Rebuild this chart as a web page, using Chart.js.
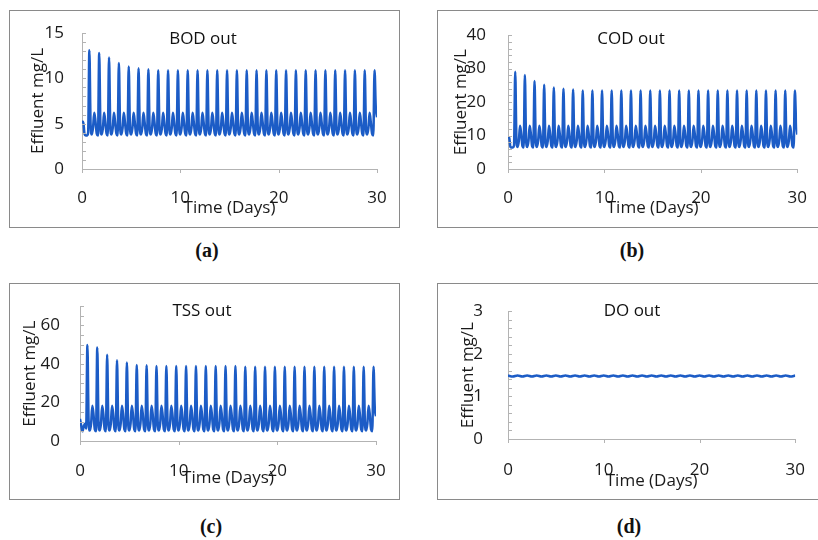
<!DOCTYPE html>
<html>
<head>
<meta charset="utf-8">
<script src="https://cdn.jsdelivr.net/npm/chart.js@4.4.1/dist/chart.umd.min.js"></script>
<style>
  body { margin: 0; background: #fff; }
  #page { position: relative; width: 818px; height: 540px; overflow: hidden; font-family: "Open Sans", sans-serif; }
  .box { position: absolute; border: 1px solid #8a8a8a; box-sizing: border-box; }
  canvas { position: absolute; }
  .ttl { position: absolute; transform: translate(-50%, -50%); font-size: 17px; color: #111; white-space: nowrap; }
  .cap { position: absolute; transform: translate(-50%, -50%); font: bold 20px "Liberation Serif", serif; color: #111; }
</style>
</head>
<body>
<div id="page">
  <div class="box" style="left:9px;top:10px;width:391px;height:218px"></div>
  <div class="box" style="left:437px;top:10px;width:400px;height:218px"></div>
  <div class="box" style="left:9px;top:283px;width:391px;height:217px"></div>
  <div class="box" style="left:437px;top:283px;width:400px;height:217px"></div>

  <canvas id="cA" width="389" height="216" style="left:10px;top:11px"></canvas>
  <canvas id="cB" width="380" height="216" style="left:438px;top:11px"></canvas>
  <canvas id="cC" width="389" height="215" style="left:10px;top:284px"></canvas>
  <canvas id="cD" width="380" height="215" style="left:438px;top:284px"></canvas>

  <div class="ttl" style="left:203px;top:37px">BOD out</div>
  <div class="ttl" style="left:631px;top:37px">COD out</div>
  <div class="ttl" style="left:202px;top:309px">TSS out</div>
  <div class="ttl" style="left:632px;top:309px">DO out</div>

  <div class="cap" style="left:207px;top:250px">(a)</div>
  <div class="cap" style="left:632px;top:250px">(b)</div>
  <div class="cap" style="left:211px;top:526px">(c)</div>
  <div class="cap" style="left:629px;top:526px">(d)</div>
</div>

<script>
// sampling step of the simulated series (days)
const STEP = 0.125
const DO_STEP = 0.5

const X_TICKS = [0, 10, 20, 30]
const BOD_Y_TICKS = [0, 5, 10, 15]
const COD_Y_TICKS = [0, 10, 20, 30, 40]
const TSS_Y_TICKS = [0, 20, 40, 60]
const DO_Y_TICKS = [0, 1, 2, 3]

// one row per day, 8 samples per day
const BOD_OUT = [
  5.2, 5.2, 3.9, 3.7, 3.7, 4.0, 13.1, 4.9,
  3.8, 4.6, 6.2, 5.2, 3.9, 3.7, 12.8, 4.8,
  3.8, 4.5, 6.2, 5.1, 3.9, 3.7, 12.3, 4.8,
  3.8, 4.5, 6.2, 5.1, 3.9, 3.7, 11.7, 4.7,
  3.8, 4.5, 6.2, 5.1, 3.9, 3.7, 11.3, 4.7,
  3.8, 4.5, 6.2, 5.1, 3.9, 3.7, 11.1, 4.7,
  3.8, 4.5, 6.2, 5.1, 3.9, 3.7, 11.0, 4.7,
  3.8, 4.5, 6.2, 5.1, 3.9, 3.7, 10.9, 4.7,
  3.8, 4.5, 6.2, 5.1, 3.9, 3.7, 10.9, 4.7,
  3.8, 4.5, 6.2, 5.1, 3.9, 3.7, 10.9, 4.7,
  3.8, 4.5, 6.2, 5.1, 3.9, 3.7, 10.9, 4.7,
  3.8, 4.5, 6.2, 5.1, 3.9, 3.7, 10.9, 4.7,
  3.8, 4.5, 6.2, 5.1, 3.9, 3.7, 10.9, 4.7,
  3.8, 4.5, 6.2, 5.1, 3.9, 3.7, 10.9, 4.7,
  3.8, 4.5, 6.2, 5.1, 3.9, 3.7, 10.9, 4.7,
  3.8, 4.5, 6.2, 5.1, 3.9, 3.7, 10.9, 4.7,
  3.8, 4.5, 6.2, 5.1, 3.9, 3.7, 10.9, 4.7,
  3.8, 4.5, 6.2, 5.1, 3.9, 3.7, 10.9, 4.7,
  3.8, 4.5, 6.2, 5.1, 3.9, 3.7, 10.9, 4.7,
  3.8, 4.5, 6.2, 5.1, 3.9, 3.7, 10.9, 4.7,
  3.8, 4.5, 6.2, 5.1, 3.9, 3.7, 10.9, 4.7,
  3.8, 4.5, 6.2, 5.1, 3.9, 3.7, 10.9, 4.7,
  3.8, 4.5, 6.2, 5.1, 3.9, 3.7, 10.9, 4.7,
  3.8, 4.5, 6.2, 5.1, 3.9, 3.7, 10.9, 4.7,
  3.8, 4.5, 6.2, 5.1, 3.9, 3.7, 10.9, 4.7,
  3.8, 4.5, 6.2, 5.1, 3.9, 3.7, 10.9, 4.7,
  3.8, 4.5, 6.2, 5.1, 3.9, 3.7, 10.9, 4.7,
  3.8, 4.5, 6.2, 5.1, 3.9, 3.7, 10.9, 4.7,
  3.8, 4.5, 6.2, 5.1, 3.9, 3.7, 10.9, 4.7,
  3.8, 4.5, 6.2, 5.1, 3.9, 3.7, 10.9, 6.8,
  5.7
]

const COD_OUT = [
  9.5, 9.3, 6.6, 6.4, 6.4, 7.0, 29.1, 8.8,
  6.6, 8.4, 12.9, 10.4, 6.8, 6.4, 28.1, 8.7,
  6.6, 8.4, 12.9, 10.4, 6.8, 6.4, 26.3, 8.7,
  6.6, 8.4, 12.9, 10.4, 6.8, 6.4, 25.2, 8.6,
  6.6, 8.4, 12.9, 10.4, 6.8, 6.4, 24.4, 8.6,
  6.6, 8.4, 12.9, 10.4, 6.8, 6.4, 24.0, 8.6,
  6.6, 8.4, 12.9, 10.4, 6.8, 6.4, 23.8, 8.6,
  6.6, 8.4, 12.9, 10.4, 6.8, 6.4, 23.5, 8.6,
  6.6, 8.4, 12.9, 10.4, 6.8, 6.4, 23.5, 8.6,
  6.6, 8.4, 12.9, 10.4, 6.8, 6.4, 23.5, 8.6,
  6.6, 8.4, 12.9, 10.4, 6.8, 6.4, 23.5, 8.6,
  6.6, 8.4, 12.9, 10.4, 6.8, 6.4, 23.5, 8.6,
  6.6, 8.4, 12.9, 10.4, 6.8, 6.4, 23.5, 8.6,
  6.6, 8.4, 12.9, 10.4, 6.8, 6.4, 23.5, 8.6,
  6.6, 8.4, 12.9, 10.4, 6.8, 6.4, 23.5, 8.6,
  6.6, 8.4, 12.9, 10.4, 6.8, 6.4, 23.5, 8.6,
  6.6, 8.4, 12.9, 10.4, 6.8, 6.4, 23.5, 8.6,
  6.6, 8.4, 12.9, 10.4, 6.8, 6.4, 23.5, 8.6,
  6.6, 8.4, 12.9, 10.4, 6.8, 6.4, 23.5, 8.6,
  6.6, 8.4, 12.9, 10.4, 6.8, 6.4, 23.5, 8.6,
  6.6, 8.4, 12.9, 10.4, 6.8, 6.4, 23.5, 8.6,
  6.6, 8.4, 12.9, 10.4, 6.8, 6.4, 23.5, 8.6,
  6.6, 8.4, 12.9, 10.4, 6.8, 6.4, 23.5, 8.6,
  6.6, 8.4, 12.9, 10.4, 6.8, 6.4, 23.5, 8.6,
  6.6, 8.4, 12.9, 10.4, 6.8, 6.4, 23.5, 8.6,
  6.6, 8.4, 12.9, 10.4, 6.8, 6.4, 23.5, 8.6,
  6.6, 8.4, 12.9, 10.4, 6.8, 6.4, 23.5, 8.6,
  6.6, 8.4, 12.9, 10.4, 6.8, 6.4, 23.5, 8.6,
  6.6, 8.4, 12.9, 10.4, 6.8, 6.4, 23.5, 8.6,
  6.6, 8.4, 12.9, 10.4, 6.8, 6.4, 23.5, 14.0,
  10.3
]

const TSS_OUT = [
  11.5, 8.0, 5.0, 7.5, 9.0, 6.5, 49.9, 10.2,
  5.4, 9.0, 18.3, 13.4, 6.0, 5.1, 48.5, 10.1,
  5.4, 9.0, 18.3, 13.4, 6.0, 5.1, 44.8, 10.1,
  5.4, 9.0, 18.3, 13.4, 6.0, 5.1, 41.9, 10.0,
  5.4, 9.0, 18.3, 13.4, 6.0, 5.1, 40.8, 10.0,
  5.4, 9.0, 18.3, 13.4, 6.0, 5.1, 39.5, 10.0,
  5.4, 9.0, 18.3, 13.4, 6.0, 5.1, 39.3, 10.0,
  5.4, 9.0, 18.3, 13.4, 6.0, 5.1, 39.0, 10.0,
  5.4, 9.0, 18.3, 13.4, 6.0, 5.1, 39.0, 10.0,
  5.4, 9.0, 18.3, 13.4, 6.0, 5.1, 39.0, 10.0,
  5.4, 9.0, 18.3, 13.4, 6.0, 5.1, 39.0, 10.0,
  5.4, 9.0, 18.3, 13.4, 6.0, 5.1, 39.0, 10.0,
  5.4, 9.0, 18.3, 13.4, 6.0, 5.1, 39.0, 10.0,
  5.4, 9.0, 18.3, 13.4, 6.0, 5.1, 39.0, 10.0,
  5.4, 9.0, 18.3, 13.4, 6.0, 5.1, 39.0, 10.0,
  5.4, 9.0, 18.3, 13.4, 6.0, 5.1, 39.0, 10.0,
  5.4, 9.0, 18.3, 13.4, 6.0, 5.1, 38.6, 10.0,
  5.4, 9.0, 18.3, 13.4, 6.0, 5.1, 38.6, 10.0,
  5.4, 9.0, 18.3, 13.4, 6.0, 5.1, 38.6, 10.0,
  5.4, 9.0, 18.3, 13.4, 6.0, 5.1, 38.6, 10.0,
  5.4, 9.0, 18.3, 13.4, 6.0, 5.1, 38.6, 10.0,
  5.4, 9.0, 18.3, 13.4, 6.0, 5.1, 38.6, 10.0,
  5.4, 9.0, 18.3, 13.4, 6.0, 5.1, 38.6, 10.0,
  5.4, 9.0, 18.3, 13.4, 6.0, 5.1, 38.6, 10.0,
  5.4, 9.0, 18.3, 13.4, 6.0, 5.1, 38.6, 10.0,
  5.4, 9.0, 18.3, 13.4, 6.0, 5.1, 38.6, 10.0,
  5.4, 9.0, 18.3, 13.4, 6.0, 5.1, 38.6, 10.0,
  5.4, 9.0, 18.3, 13.4, 6.0, 5.1, 38.6, 10.0,
  5.4, 9.0, 18.3, 13.4, 6.0, 5.1, 38.6, 10.0,
  5.4, 9.0, 18.3, 13.4, 6.0, 5.1, 38.6, 17.5,
  12.8
]

// two samples per day
const DO_OUT = [
  1.49, 1.465, 1.49, 1.465, 1.49, 1.465, 1.49, 1.465, 1.49, 1.465,
  1.49, 1.465, 1.49, 1.465, 1.49, 1.465, 1.49, 1.465, 1.49, 1.465,
  1.49, 1.465, 1.49, 1.465, 1.49, 1.465, 1.49, 1.465, 1.49, 1.465,
  1.49, 1.465, 1.49, 1.465, 1.49, 1.465, 1.49, 1.465, 1.49, 1.465,
  1.49, 1.465, 1.49, 1.465, 1.49, 1.465, 1.49, 1.465, 1.49, 1.465,
  1.49, 1.465, 1.49, 1.465, 1.49, 1.465, 1.49, 1.465, 1.49, 1.465,
  1.49
]

const LINE_COLOR = '#1c5cc6'
const AXIS_COLOR = '#b3b3b3'
const TEXT_FONT = { family: '"Open Sans", sans-serif', size: 17 }

// small tick marks: minor ones inside the y axis, major ones under the x axis
const axisMarks = {
    id: 'axisMarks',
    afterDraw(chart, args, opts) {
        const { ctx, chartArea, scales: { x, y } } = chart
        ctx.save()
        ctx.strokeStyle = AXIS_COLOR
        ctx.lineWidth = 1
        ctx.beginPath()
        const n = Math.round(y.max / opts.yStep)
        for (let i = 0; i <= n; i++) {
            const py = Math.round(y.getPixelForValue(i * opts.yStep)) + 0.5
            ctx.moveTo(chartArea.left, py)
            ctx.lineTo(chartArea.left + 4, py)
        }
        X_TICKS.forEach(v => {
            const px = Math.round(x.getPixelForValue(v)) + 0.5
            ctx.moveTo(px, chartArea.bottom)
            ctx.lineTo(px, chartArea.bottom + 4)
        })
        ctx.stroke()
        ctx.restore()
    }
}

const makeChart = (id, p) => {
    const step = p.step || STEP
    const points = p.values.map((v, i) => ({ x: i * step, y: v }))
    return new Chart(document.getElementById(id), {
        type: 'line',
        data: {
            datasets: [{
                data: points,
                borderColor: LINE_COLOR,
                borderWidth: 2.5,
                pointRadius: 0,
                cubicInterpolationMode: 'monotone',
                fill: false
            }]
        },
        options: {
            responsive: false,
            animation: false,
            layout: { padding: { left: 0, top: p.padTop, right: p.padRight, bottom: 0 } },
            plugins: {
                legend: { display: false },
                tooltip: { enabled: false },
                axisMarks: { yStep: p.minor }
            },
            scales: {
                x: {
                    type: 'linear',
                    min: 0,
                    max: 30,
                    afterBuildTicks: s => { s.ticks = X_TICKS.map(v => ({ value: v })) },
                    afterFit: s => { s.height = p.xHeight },
                    grid: { display: false },
                    border: { color: AXIS_COLOR, width: 1 },
                    ticks: { font: TEXT_FONT, color: '#1a1a1a', padding: p.xTickPad, maxRotation: 0 },
                    title: { display: true, text: 'Time (Days)', font: TEXT_FONT, color: '#1a1a1a', padding: { top: 0, bottom: p.xTitlePad } }
                },
                y: {
                    min: 0,
                    max: p.yMax,
                    afterBuildTicks: s => { s.ticks = p.yTicks.map(v => ({ value: v })) },
                    afterFit: s => { s.width = p.yWidth },
                    grid: { display: false },
                    border: { color: AXIS_COLOR, width: 1 },
                    ticks: { font: TEXT_FONT, color: '#1a1a1a', padding: p.yTickPad },
                    title: { display: true, text: 'Effluent mg/L', font: TEXT_FONT, color: '#1a1a1a', padding: { top: p.yTitlePad, bottom: 0 } }
                }
            }
        },
        plugins: [axisMarks]
    })
}

makeChart('cA', { values: BOD_OUT, yMax: 15, yTicks: BOD_Y_TICKS, minor: 1,
    yWidth: 72, xHeight: 58, padTop: 22, padRight: 22, yTickPad: 10, xTickPad: 11, yTitlePad: 18, xTitlePad: 9 })
makeChart('cB', { values: COD_OUT, yMax: 40, yTicks: COD_Y_TICKS, minor: 2,
    yWidth: 70, xHeight: 58, padTop: 22, padRight: 15, yTickPad: 14, xTickPad: 11, yTitlePad: 13, xTitlePad: 9 })
makeChart('cC', { values: TSS_OUT, yMax: 70, yTicks: TSS_Y_TICKS, minor: 5,
    yWidth: 70, xHeight: 58, padTop: 11, padRight: 23, yTickPad: 12, xTickPad: 12, yTitlePad: 10, xTitlePad: 11 })
makeChart('cD', { values: DO_OUT, step: DO_STEP, yMax: 3, yTicks: DO_Y_TICKS, minor: 0.2,
    yWidth: 70, xHeight: 60, padTop: 20, padRight: 15, yTickPad: 17, xTickPad: 13, yTitlePad: 20, xTitlePad: 8 })
</script>
</body>
</html>
